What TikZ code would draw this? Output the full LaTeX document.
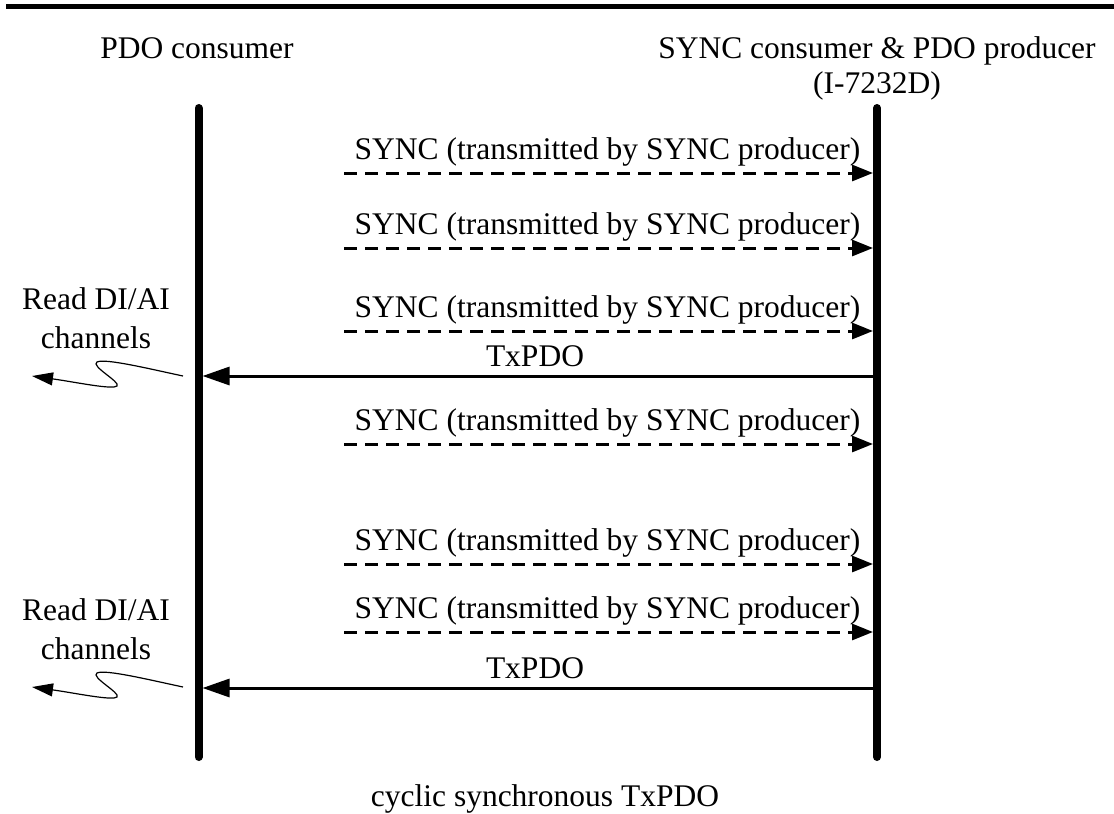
\documentclass[tikz,border=0pt]{standalone}
\usepackage{fontspec}
\setmainfont{Liberation Serif}
\usetikzlibrary{arrows.meta}
\begin{document}
\begin{tikzpicture}[x=1pt,y=-1pt,
  lbl/.style={font=\fontsize{31.5}{38}\selectfont, anchor=base, inner sep=0pt},
  lifeline/.style={line width=8pt, line cap=round},
  syncarrow/.style={line width=3pt, dash pattern=on 13pt off 8pt, -{Triangle[length=21pt,width=16pt]}},
  pdoarrow/.style={line width=3pt, -{Triangle[length=27pt,width=18pt]}},
  squiggle/.style={line width=1.2pt, -{Triangle[length=21pt,width=13pt]}}]
\useasboundingbox (0,0) rectangle (1114,814);
% top rule
\fill (6,4) rectangle (1114,9);
% headers
\node[lbl] (hl) at (197,58) {PDO consumer};
\node[lbl] (hr1) at (877,58) {SYNC consumer \& PDO producer};
\node[lbl] (hr2) at (877,93) {(I-7232D)};
% lifelines
\coordinate (Ltop) at (198.5,108);
\coordinate (Lbot) at (198.5,757);
\coordinate (Rtop) at (877,108);
\coordinate (Rbot) at (877,757);
\draw[lifeline] (Ltop) -- (Lbot);
\draw[lifeline] (Rtop) -- (Rbot);
% SYNC messages
\foreach \i/\y in {1/173,2/248,3/331,4/444,5/564,6/632}{
  \coordinate (s\i a) at (344,\y);
  \coordinate (s\i b) at (873,\y);
  \draw[syncarrow] (s\i a) -- (s\i b);
  \node[lbl] (sl\i) at (607.5,\y-14) {SYNC (transmitted by SYNC producer)};
}
% TxPDO messages
\foreach \i/\y in {1/376,2/688}{
  \coordinate (t\i a) at (877,\y);
  \coordinate (t\i b) at (202.5,\y);
  \draw[pdoarrow] (t\i a) -- (t\i b);
  \node[lbl] (tl\i) at (535,\y-10) {TxPDO};
}
% Read DI/AI channels with squiggles
\foreach \i/\d in {1/0,2/311}{
  \node[lbl] (rd\i) at (96,309+\d) {Read DI/AI};
  \node[lbl] (ch\i) at (96,348+\d) {channels};
  \coordinate (q\i a) at (183,376+\d);
  \coordinate (q\i b) at (32,376+\d);
  \draw[squiggle] (q\i a) .. controls (150,369+\d) and (105,358+\d) .. (97,362+\d)
     .. controls (90,366+\d) and (121,382+\d) .. (117,386+\d)
     .. controls (113,390+\d) and (75,382+\d) .. (q\i b);
}
% caption
\node[lbl] (cap) at (545,806) {cyclic synchronous TxPDO};
\end{tikzpicture}
\end{document}
